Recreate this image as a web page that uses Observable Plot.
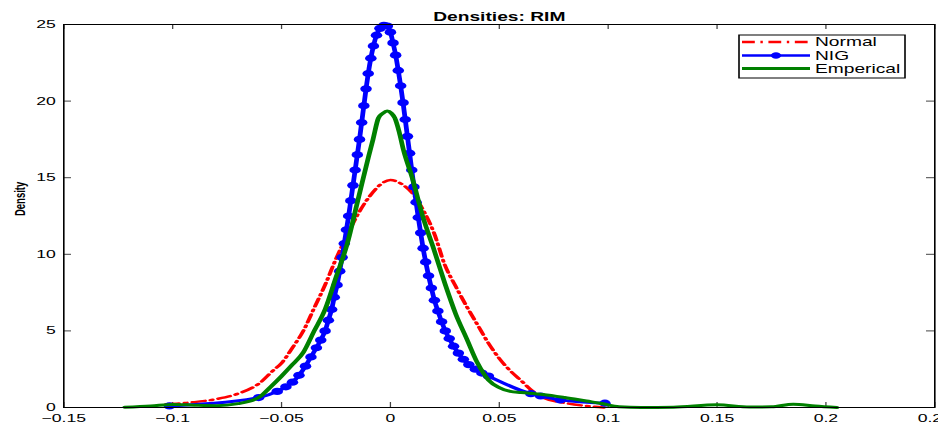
<!DOCTYPE html>
<html>
<head>
<meta charset="utf-8">
<script src="https://cdn.jsdelivr.net/npm/d3@7"></script>
<script src="https://cdn.jsdelivr.net/npm/@observablehq/plot@0.6"></script>
<style>
  html, body { margin: 0; padding: 0; background: white; overflow: hidden; }
</style>
</head>
<body>
<div id="chart"></div>
<script>
// ---- data ----
const title = "Densities: RIM";
const yLabel = "Density";
const seriesNames = ["Normal", "NIG", "Emperical"];
const xTicks = [-0.15, -0.1, -0.05, 0, 0.05, 0.1, 0.15, 0.2, 0.25];
const yTicks = [0, 5, 10, 15, 20, 25];

const normalX = [-0.103, -0.09, -0.08, -0.07, -0.06, -0.054, -0.05, -0.045, -0.04, -0.035, -0.03, -0.025, -0.02, -0.015, -0.01, -0.005, 0, 0.005, 0.01, 0.015, 0.02, 0.025, 0.03, 0.035, 0.04, 0.045, 0.05, 0.055, 0.06, 0.065, 0.07, 0.08, 0.09, 0.098];
const normalY = [0.22, 0.35, 0.55, 0.9, 1.6, 2.4, 2.9, 3.9, 5.0, 6.5, 8.0, 9.7, 11.2, 12.6, 13.7, 14.5, 14.85, 14.6, 14.0, 12.9, 11.4, 9.3, 7.9, 6.6, 5.4, 4.2, 3.2, 2.4, 1.76, 1.1, 0.65, 0.3, 0.1, 0.0];

const nigX = [-0.1015, -0.0605, -0.052, -0.048, -0.045, -0.042, -0.039, -0.0365, -0.034, -0.032, -0.030, -0.0285, -0.027, -0.0258, -0.0245, -0.0233, -0.0222, -0.0212, -0.0202, -0.0192, -0.0182, -0.0172, -0.0162, -0.0152, -0.0142, -0.0132, -0.0122, -0.0112, -0.0102, -0.0090, -0.0078, -0.0064, -0.0048, -0.0030, -0.0014, 0.0000, 0.0012, 0.0024, 0.0036, 0.0047, 0.0058, 0.0068, 0.0078, 0.0088, 0.0098, 0.0108, 0.0118, 0.0128, 0.0139, 0.0150, 0.0162, 0.0175, 0.0188, 0.0202, 0.0218, 0.0235, 0.0252, 0.0270, 0.0290, 0.0312, 0.0335, 0.0360, 0.0390, 0.0420, 0.0450, 0.0645, 0.069, 0.078, 0.0985];
const nigY = [0.10, 0.65, 1.05, 1.35, 1.65, 2.1, 2.7, 3.3, 3.9, 4.4, 5.0, 5.7, 6.4, 7.2, 8.0, 8.9, 9.8, 10.7, 11.6, 12.5, 13.5, 14.5, 15.5, 16.5, 17.5, 18.6, 19.7, 20.8, 21.8, 22.8, 23.6, 24.3, 24.75, 24.95, 24.9, 24.5, 23.8, 23.0, 22.0, 21.0, 19.9, 18.8, 17.7, 16.6, 15.5, 14.4, 13.4, 12.4, 11.4, 10.4, 9.5, 8.6, 7.8, 7.0, 6.3, 5.6, 5.0, 4.5, 4.0, 3.55, 3.15, 2.8, 2.5, 2.25, 2.05, 0.9, 0.75, 0.5, 0.28];

const empX = [-0.122, -0.11, -0.1, -0.09, -0.08, -0.07, -0.06, -0.055, -0.05, -0.045, -0.04, -0.035, -0.03, -0.025, -0.02, -0.015, -0.01, -0.008, -0.0055, -0.0035, -0.0015, 0.0005, 0.002, 0.004, 0.006, 0.01, 0.015, 0.02, 0.025, 0.03, 0.035, 0.04, 0.045, 0.05, 0.055, 0.06, 0.07, 0.08, 0.09, 0.097, 0.105, 0.115, 0.13, 0.15, 0.165, 0.175, 0.185, 0.195, 0.205];
const empY = [0.02, 0.1, 0.2, 0.15, 0.12, 0.25, 0.7, 1.35, 2.05, 2.8, 3.6, 5.0, 6.4, 8.5, 10.6, 13.5, 16.4, 17.5, 18.9, 19.2, 19.35, 19.2, 18.9, 18.0, 16.8, 15.0, 12.4, 10.3, 8.1, 6.1, 4.5, 2.9, 1.8, 1.3, 1.05, 0.98, 0.85, 0.65, 0.42, 0.26, 0.05, 0.0, 0.02, 0.18, 0.03, 0.05, 0.22, 0.1, 0.0];

const colors = {Normal: "#ff0000", NIG: "#0000ff", Emperical: "#008000"};

// ---- tables built from the arrays ----
const normal = normalX.map((x, i) => ({x, y: normalY[i]}));
const nig = nigX.map((x, i) => ({x, y: nigY[i]}));
const emp = empX.map((x, i) => ({x, y: empY[i]}));

// The reference is horizontally stretched; draw narrow, then stretch the SVG.
const finalW = 938, H = 423;
const W = 586;
const s = finalW / W;
const mL = 63 / s, mR = 4 / s, mT = 24, mB = 16;
const plotW = W - mL - mR, plotH = H - mT - mB;
const font = "'Liberation Sans', Arial, Helvetica, sans-serif";
const fmt = d => (d < 0 ? "\u2212" : "") + String(Math.abs(d));

const chart = Plot.plot({
  width: W,
  height: H,
  marginLeft: mL, marginRight: mR, marginTop: mT, marginBottom: mB,
  style: {fontFamily: font, fontSize: "11px", background: "white", color: "black"},
  x: {domain: [-0.15, 0.25]},
  y: {domain: [0, 25]},
  marks: [
    Plot.axisX({ticks: xTicks, tickSize: 0, tickPadding: 6.5, tickFormat: fmt, label: null, fontSize: 11}),
    Plot.axisY({ticks: yTicks, tickSize: 0, tickPadding: 5, tickFormat: fmt, label: null, fontSize: 11}),
    Plot.tickX(xTicks, {x: d => d, insetTop: plotH - 5, stroke: "#444", strokeWidth: 0.8}),
    Plot.tickX(xTicks, {x: d => d, insetBottom: plotH - 5, stroke: "#444", strokeWidth: 0.8}),
    Plot.tickY(yTicks, {y: d => d, insetRight: plotW - 5, stroke: "#444", strokeWidth: 1}),
    Plot.tickY(yTicks, {y: d => d, insetLeft: plotW - 5, stroke: "#444", strokeWidth: 1}),
    Plot.line(normal, {x: "x", y: "y", stroke: colors.Normal, strokeWidth: 2.5, strokeDasharray: "8,3.5,1.5,3.5", curve: "monotone-x"}),
    Plot.line(nig, {x: "x", y: "y", stroke: colors.NIG, strokeWidth: 3, curve: "monotone-x"}),
    Plot.dot(nig, {x: "x", y: "y", r: 3.6, fill: colors.NIG, stroke: "none"}),
    Plot.line(emp, {x: "x", y: "y", stroke: colors.Emperical, strokeWidth: 3, curve: "monotone-x"}),
    Plot.frame({stroke: "black", strokeWidth: 1}),
    Plot.text([title], {text: d => d, frameAnchor: "top", dy: -12, fontWeight: "bold", fontSize: 12}),
    Plot.text([yLabel], {text: d => d, frameAnchor: "left", dx: -27.5, rotate: -90, fontSize: 9.5, fontWeight: "bold"})
  ]
});

chart.setAttribute("width", finalW);
chart.setAttribute("preserveAspectRatio", "none");
chart.style.width = finalW + "px";
chart.style.height = H + "px";
chart.style.maxWidth = "none";

// legend (in the narrow coordinate space, so it is stretched like the rest)
const g = d3.select(chart).append("g").attr("font-family", font).attr("font-size", 12).attr("text-anchor", "start");
const bx0 = 739 / s, bx1 = 905 / s, by0 = 35, by1 = 78;
g.append("rect").attr("x", bx0).attr("y", by0).attr("width", bx1 - bx0).attr("height", by1 - by0)
  .attr("fill", "white").attr("stroke", "black").attr("stroke-width", 1);
const rowsY = [42, 55.5, 68.5];
const lx0 = 742 / s, lx1 = 810 / s, tx = 815 / s;
seriesNames.forEach((name, i) => {
  const yy = rowsY[i];
  const ln = g.append("line").attr("x1", lx0).attr("x2", lx1).attr("y1", yy).attr("y2", yy)
    .attr("stroke", colors[name]).attr("stroke-width", name === "Emperical" ? 3 : 2.5);
  if (name === "Normal") ln.attr("stroke-dasharray", "8,3.5,1.5,3.5");
  if (name === "NIG") g.append("circle").attr("cx", (lx0 + lx1) / 2).attr("cy", yy).attr("r", 3.2).attr("fill", colors[name]);
  g.append("text").attr("x", tx).attr("y", yy).attr("dy", "0.36em").attr("text-anchor", "start").attr("fill", "black").text(name);
});

document.getElementById("chart").appendChild(chart);
</script>
</body>
</html>
